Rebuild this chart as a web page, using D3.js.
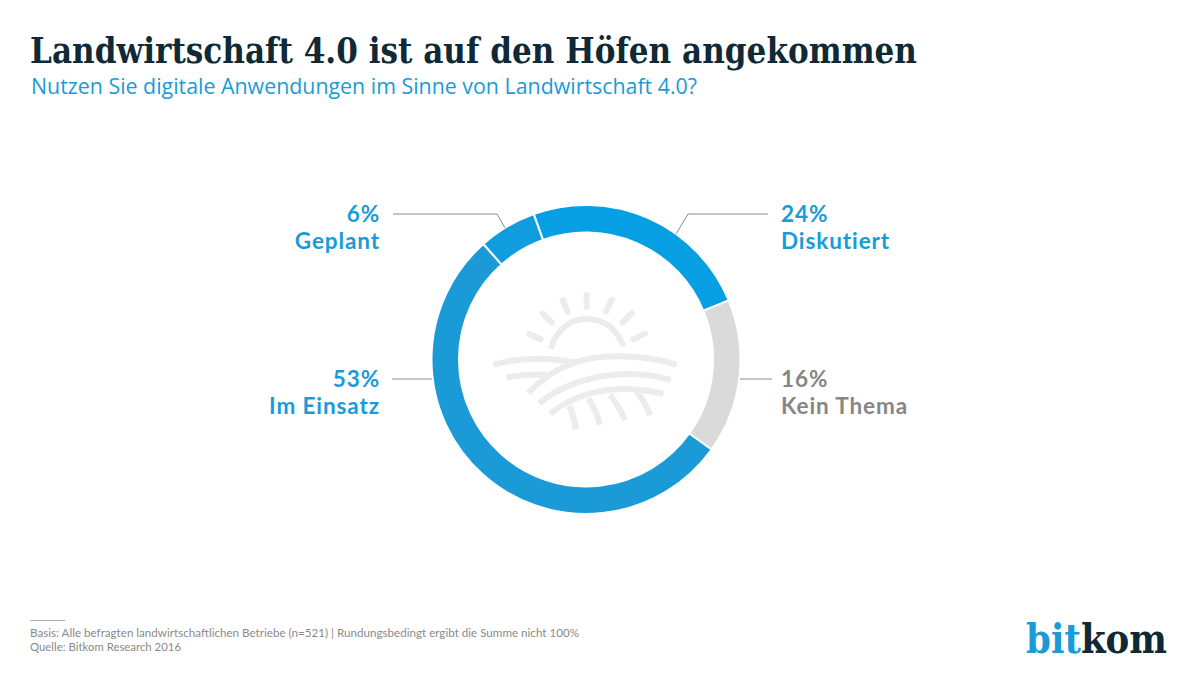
<!DOCTYPE html>
<html>
<head>
<meta charset="utf-8">
<script src="https://cdn.jsdelivr.net/npm/d3@7"></script>
<style>
  html, body { margin: 0; padding: 0; background: #fff; }
  text { font-family: "Open Sans", sans-serif; }
</style>
</head>
<body>
<div id="chart"></div>
<script>
// Data, clockwise from the top
const categories = ["Diskutiert", "Kein Thema", "Im Einsatz", "Geplant"];
const values = [24, 16, 53, 6];
const colors = ["#069fe3", "#dadada", "#1a9bd7", "#0f9de0"];
const labelColors = ["#1a9bd7", "#868686", "#1a9bd7", "#1a9bd7"];

const width = 1200;
const height = 673;
const cx = 586;
const cy = 359.5;
const outerR = 154.5;
const innerR = 127;
const startDeg = -19.8;

const svg = d3.select("#chart")
              .append("svg")
              .attr("width", width)
              .attr("height", height);

// Title block
svg.append("text")
   .attr("x", 30)
   .attr("y", 63)
   .attr("font-size", 35)
   .attr("font-weight", "bold")
   .attr("fill", "#0f2a36")
   .style("font-family", "'DejaVu Serif', serif")
   .attr("textLength", 887)
   .attr("lengthAdjust", "spacingAndGlyphs")
   .text("Landwirtschaft 4.0 ist auf den Höfen angekommen");

svg.append("text")
   .attr("x", 31)
   .attr("y", 94)
   .attr("font-size", 22)
   .attr("fill", "#1a9bd7")
   .attr("textLength", 666)
   .attr("lengthAdjust", "spacingAndGlyphs")
   .text("Nutzen Sie digitale Anwendungen im Sinne von Landwirtschaft 4.0?");

// Donut
const pie = d3.pie()
              .sort(null)
              .startAngle(startDeg * Math.PI / 180)
              .endAngle((startDeg + 360) * Math.PI / 180);

const arc = d3.arc().innerRadius(innerR).outerRadius(outerR);
const arcs = pie(values);

const donut = svg.append("g").attr("transform", `translate(${cx},${cy})`);

donut.selectAll("path")
     .data(arcs)
     .enter()
     .append("path")
     .attr("d", arc)
     .attr("fill", (d, i) => colors[i])
     .attr("stroke", "#fff")
     .attr("stroke-width", 2);

// Leader lines and labels, one spec per slice
const labelSpecs = [
  { side: 1, x: 781, y: 214, lineTo: 768, elbow: 688, tip: [676, 234] },
  { side: 1, x: 781, y: 379, lineTo: 772, elbow: null, tip: [740, 379] },
  { side: -1, x: 380, y: 379, lineTo: 392, elbow: null, tip: [432, 379] },
  { side: -1, x: 380, y: 214, lineTo: 393, elbow: 497, tip: [505, 228] }
];

labelSpecs.forEach((s, i) => {
  const pts = [[s.lineTo, s.y]];
  if (s.elbow !== null) pts.push([s.elbow, s.y]);
  pts.push(s.tip);
  svg.append("path")
     .attr("d", d3.line()(pts))
     .attr("fill", "none")
     .attr("stroke", "#8c8c8c")
     .attr("stroke-width", 1);

  const anchor = s.side > 0 ? "start" : "end";
  svg.append("text")
     .attr("x", s.x)
     .attr("y", s.y + 8)
     .attr("font-size", 22.5)
     .attr("font-weight", "bold")
     .attr("text-anchor", anchor)
     .attr("fill", labelColors[i])
     .style("font-family", "Lato, sans-serif")
     .style("letter-spacing", "0.9px")
     .text(values[i] + "%");
  svg.append("text")
     .attr("x", s.x)
     .attr("y", s.y + 35)
     .attr("font-size", 22.5)
     .attr("font-weight", "bold")
     .attr("text-anchor", anchor)
     .attr("fill", labelColors[i])
     .style("font-family", "Lato, sans-serif")
     .style("letter-spacing", "0.9px")
     .text(categories[i]);
});

// Sun and field icon, traced at 3x
const icon = svg.append("g")
                .attr("transform", "translate(470,270) scale(0.3333)")
                .attr("fill", "none")
                .attr("stroke", "#ececec")
                .attr("stroke-width", 18);

const iconPaths = [
  "M243,236 C260,170 310,147 350,147 C400,147 440,175 460,228",
  "M70,284 C150,262 240,262 320,278",
  "M620,284 C530,255 400,250 320,276 C260,296 210,330 175,370",
  "M110,322 C150,315 190,312 232,314",
  "M207,400 C320,310 480,295 602,330",
  "M240,432 C340,350 470,345 580,372",
  "M298,408 Q312,440 318,478",
  "M355,385 Q378,420 390,465",
  "M420,375 Q448,410 465,450",
  "M500,365 Q525,395 540,435"
];
icon.selectAll("path.field")
    .data(iconPaths)
    .enter()
    .append("path")
    .attr("class", "field")
    .attr("d", d => d);

const rays = [
  [178, 192, 212, 208], [218, 130, 245, 158], [278, 90, 293, 125], [350, 75, 350, 112],
  [425, 90, 408, 125], [485, 130, 457, 158], [525, 190, 490, 208]
];
icon.selectAll("line")
    .data(rays)
    .enter()
    .append("line")
    .attr("x1", d => d[0])
    .attr("y1", d => d[1])
    .attr("x2", d => d[2])
    .attr("y2", d => d[3])
    .attr("stroke-linecap", "round");

// Footer
svg.append("line")
   .attr("x1", 30).attr("x2", 65)
   .attr("y1", 620.5).attr("y2", 620.5)
   .attr("stroke", "#aaa");

svg.append("text")
   .attr("x", 30)
   .attr("y", 637)
   .attr("font-size", 11.5)
   .attr("fill", "#8a8a8a")
   .style("font-family", "Lato, sans-serif")
   .attr("textLength", 549)
   .attr("lengthAdjust", "spacingAndGlyphs")
   .text("Basis: Alle befragten landwirtschaftlichen Betriebe (n=521) | Rundungsbedingt ergibt die Summe nicht 100%");

svg.append("text")
   .attr("x", 30)
   .attr("y", 651)
   .attr("font-size", 11.5)
   .attr("fill", "#8a8a8a")
   .style("font-family", "Lato, sans-serif")
   .attr("textLength", 151)
   .attr("lengthAdjust", "spacingAndGlyphs")
   .text("Quelle: Bitkom Research 2016");

// Logo, squeezed to the reference width with a scale so the two colours don't collide
const logo = svg.append("text")
   .attr("font-size", 41)
   .attr("font-weight", "bold")
   .style("font-family", "'DejaVu Serif', serif");
logo.append("tspan").attr("fill", "#1a9bd7").text("bit");
logo.append("tspan").attr("fill", "#0f2a36").text("kom");
const logoScale = 141 / logo.node().getComputedTextLength();
logo.attr("transform", `translate(1026,653) scale(${logoScale},1)`);
</script>
</body>
</html>
